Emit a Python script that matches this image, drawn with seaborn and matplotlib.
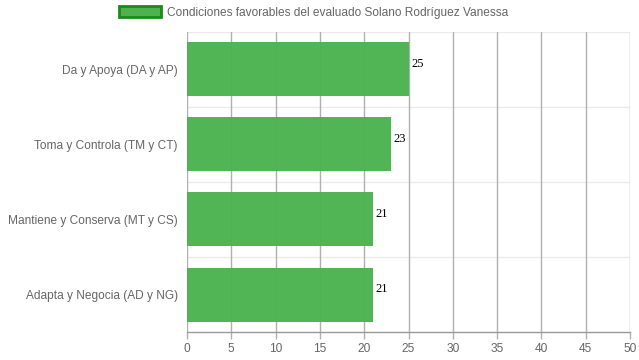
import pandas as pd
import seaborn as sns
import matplotlib.pyplot as plt
from matplotlib.patches import Patch

categorias = ['Da y Apoya (DA y AP)', 'Toma y Controla (TM y CT)',
              'Mantiene y Conserva (MT y CS)', 'Adapta y Negocia (AD y NG)']
valores = [25, 23, 21, 21]
xticks = list(range(0, 55, 5))
leyenda = 'Condiciones favorables del evaluado Solano Rodríguez Vanessa'

df = pd.DataFrame({'categoria': categorias, 'valor': valores})

sns.set_theme(style='white')
plt.rcParams['font.family'] = ['Liberation Sans', 'DejaVu Sans']

fig = plt.figure(figsize=(6.39, 3.6), dpi=100)
ax = fig.add_axes([187 / 639, 28 / 360, 443 / 639, 300 / 360])

sns.barplot(data=df, x='valor', y='categoria', orient='h', color='#4cb34f',
            saturation=1, width=0.72, linewidth=0, ax=ax, zorder=3)
for p in ax.patches:
    p.set_alpha(0.97)

ax.set_xlim(0, 50)
ax.set_ylim(len(categorias) - 0.5, -0.5)
ax.set_xticks(xticks)
ax.set_xticklabels([str(t) for t in xticks])
ax.set_xlabel('')
ax.set_ylabel('')

# lineas verticales
for t in xticks:
    ax.axvline(t, color='#b0b0b0', lw=1, zorder=1)
# lineas horizontales suaves entre categorias
for y in [-0.5, 0.5, 1.5, 2.5]:
    ax.axhline(y, color='#ebebeb', lw=1, zorder=0)

for s in ['top', 'right', 'left']:
    ax.spines[s].set_visible(False)
ax.spines['bottom'].set_color('#999999')
ax.spines['bottom'].set_linewidth(1)

ax.tick_params(axis='x', colors='#666666', labelsize=8.6, length=5, width=1,
               direction='out', pad=3, bottom=True)
ax.tick_params(axis='x', color='#b0b0b0')
ax.tick_params(axis='y', colors='#666666', labelsize=8.6, length=0,
               pad=6.5, left=False)

for i, v in enumerate(valores):
    ax.text(v + 0.3, i - 0.07, str(v), ha='left', va='center', fontsize=9,
            family=['Liberation Serif', 'DejaVu Serif'], color='black', zorder=4)

handle = Patch(facecolor='#4cb34f', edgecolor='#1a8a1a', linewidth=2)
fig.legend(handles=[handle], labels=[leyenda], loc='upper center',
           bbox_to_anchor=(314 / 639, 1.012), frameon=False, fontsize=8.6,
           handlelength=3.5, handleheight=1.0, handletextpad=0.5,
           labelcolor='#666666')

fig.savefig('out.png', dpi=100)
